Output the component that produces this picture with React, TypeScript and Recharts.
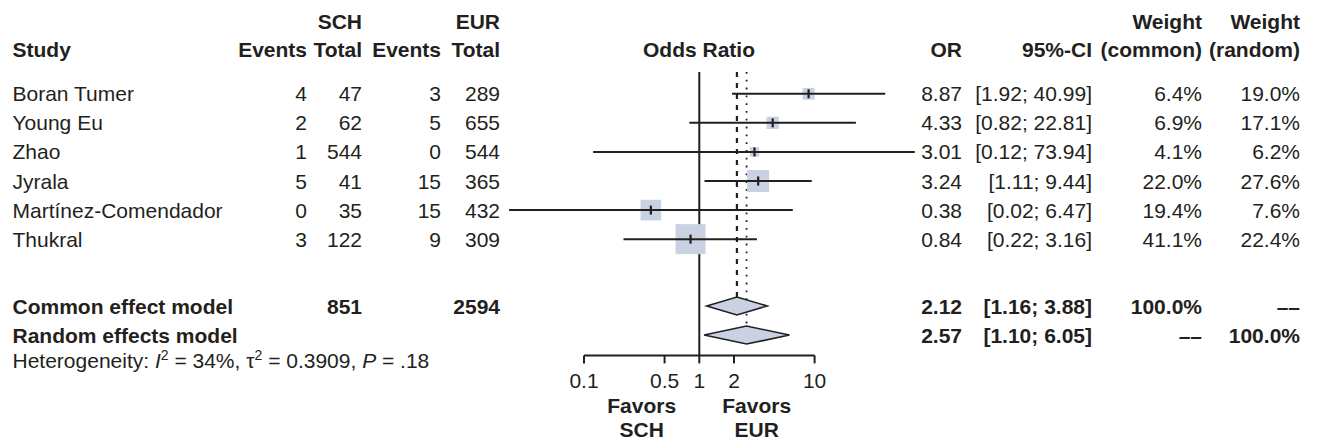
import React from 'react';
import { ScatterChart, Scatter, XAxis, YAxis } from 'recharts';

// ---------- data ----------
const studies = ['Boran Tumer', 'Young Eu', 'Zhao', 'Jyrala', 'Martínez-Comendador', 'Thukral'];
const schEvents = [4, 2, 1, 5, 0, 3];
const schTotal = [47, 62, 544, 41, 35, 122];
const eurEvents = [3, 5, 0, 15, 15, 9];
const eurTotal = [289, 655, 544, 365, 432, 309];
const orValues = [8.87, 4.33, 3.01, 3.24, 0.38, 0.84];
const ciLower = [1.92, 0.82, 0.12, 1.11, 0.0224, 0.22];
const ciUpper = [40.99, 22.81, 73.94, 9.44, 6.47, 3.16];
const weightCommon = [6.4, 6.9, 4.1, 22.0, 19.4, 41.1];
const weightRandom = [19.0, 17.1, 6.2, 27.6, 7.6, 22.4];

const summaryLabels = ['Common effect model', 'Random effects model'];
const summaryOR = [2.12, 2.57];
const summaryLower = [1.16, 1.1];
const summaryUpper = [3.88, 6.05];
const summaryWeightCommon = ['100.0%', '––'];
const summaryWeightRandom = ['––', '100.0%'];
const totalSCH = 851;
const totalEUR = 2594;

const axisTicks = [0.1, 0.5, 1, 2, 10];
const hetI2 = '34%';
const hetTau2 = '0.3909';
const hetP = '.18';

// ---------- style / layout ----------
const FONT = '"Liberation Sans", Arial, Helvetica, sans-serif';
const INK = '#231f20';
const BOX = '#c8d2e3';
const FS = 21;
const COL = { study: 12.5, schEv: 307, schTot: 362, eurEv: 441, eurTot: 500, or: 962, ci: 1092, wc: 1202, wr: 1300 };

const noDot = () => <g />;

function fmtCI(lo: number, hi: number) {
  return `[${lo.toFixed(2)}; ${hi.toFixed(2)}]`;
}

const makeLine = (style: any) => (lp: any) => {
  const pts = (lp.points || []).map((q: any) => `${q.x},${q.y}`).join(' ');
  return <polyline points={pts} fill="none" {...style} />;
};

export default function App() {
  const studyY = studies.map((_, i) => i + 1);
  const sumY = summaryLabels.map((_, i) => studies.length + 2.3 + i);
  const yTop = 0.25;
  const yBottom = 10;

  const squares = studies.map((_, i) => ({ x: orValues[i], y: studyY[i], w: weightCommon[i] }));
  const estimates = studies.map((_, i) => ({ x: orValues[i], y: studyY[i] }));
  const textRows = [
    ...studies.map((_, i) => ({ x: 1, y: studyY[i], kind: 'study', idx: i })),
    ...summaryLabels.map((_, i) => ({ x: 1, y: sumY[i], kind: 'summary', idx: i })),
  ];
  const axisAnchor = axisTicks.map((t) => ({ x: t, y: yBottom }));

  const seg = (key: string, pts: { x: number; y: number }[], style: any) => (
    <Scatter
      key={key}
      xAxisId="d"
      yAxisId="y"
      data={pts}
      line={makeLine(style)}
      lineType="joint"
      shape={noDot}
      isAnimationActive={false}
      legendType="none"
    />
  );

  const txt = (x: number, y: number, s: string | number, anchor: string, bold = false, dy = '0.36em') => (
    <text x={x} y={y} dy={dy} textAnchor={anchor} fill={INK} fontSize={FS} fontFamily={FONT} fontWeight={bold ? 'bold' : 'normal'}>
      {s}
    </text>
  );

  const renderRowText = (p: any) => {
    const d = p.payload || p;
    const cy = p.cy;
    const i = d.idx;
    if (d.kind === 'study') {
      return (
        <g>
          {txt(COL.study, cy, studies[i], 'start')}
          {txt(COL.schEv, cy, schEvents[i], 'end')}
          {txt(COL.schTot, cy, schTotal[i], 'end')}
          {txt(COL.eurEv, cy, eurEvents[i], 'end')}
          {txt(COL.eurTot, cy, eurTotal[i], 'end')}
          {txt(COL.or, cy, orValues[i].toFixed(2), 'end')}
          {txt(COL.ci, cy, fmtCI(ciLower[i], ciUpper[i]), 'end')}
          {txt(COL.wc, cy, `${weightCommon[i].toFixed(1)}%`, 'end')}
          {txt(COL.wr, cy, `${weightRandom[i].toFixed(1)}%`, 'end')}
        </g>
      );
    }
    return (
      <g>
        {txt(COL.study, cy, summaryLabels[i], 'start', true)}
        {i === 0 ? txt(COL.schTot, cy, totalSCH, 'end', true) : null}
        {i === 0 ? txt(COL.eurTot, cy, totalEUR, 'end', true) : null}
        {txt(COL.or, cy, summaryOR[i].toFixed(2), 'end', true)}
        {txt(COL.ci, cy, fmtCI(summaryLower[i], summaryUpper[i]), 'end', true)}
        {txt(COL.wc, cy, summaryWeightCommon[i], 'end', true)}
        {txt(COL.wr, cy, summaryWeightRandom[i], 'end', true)}
      </g>
    );
  };

  const renderSquare = (p: any) => {
    const d = p.payload || p;
    const s = 4.68 * Math.sqrt(d.w);
    return <rect x={p.cx - s / 2} y={p.cy - s / 2} width={s} height={s} fill={BOX} />;
  };

  const renderTick = (p: any) => (
    <line x1={p.cx} x2={p.cx} y1={p.cy - 4.5} y2={p.cy + 4.5} stroke={INK} strokeWidth={2.2} />
  );

  const renderDiamond = (lp: any) => {
    const pts = lp.points || [];
    if (pts.length < 3) return <g />;
    const [a, b, c] = pts;
    const h = 9;
    return (
      <polygon
        points={`${a.x},${a.y} ${b.x},${b.y - h} ${c.x},${c.y} ${b.x},${b.y + h}`}
        fill={BOX}
        stroke={INK}
        strokeWidth={1.6}
        strokeLinejoin="miter"
      />
    );
  };

  const solid = { stroke: INK, strokeWidth: 2 };

  return (
    <div style={{ position: 'absolute', left: 0, top: 0, width: 1318, height: 440, fontFamily: FONT, background: '#fff' }}>
      <ScatterChart width={1318} height={440} margin={{ top: 72, right: 388.1, bottom: 54.6, left: 468.7 }}>
        <XAxis
          xAxisId="v"
          type="number"
          scale="log"
          domain={[0.1, 10]}
          allowDataOverflow
          dataKey="x"
          ticks={axisTicks}
          interval={0}
          padding={{ left: 115.3, right: 115.3 }}
          axisLine={false}
          tickLine={{ stroke: INK, strokeWidth: 2 }}
          tickSize={8}
          tickMargin={9.5}
          height={30}
          tick={{ fill: INK, fontSize: FS, fontFamily: FONT }}
          tickFormatter={(v: number) => String(v)}
        />
        <XAxis xAxisId="d" orientation="top" hide type="number" scale="log" domain={[0.01, 100]} dataKey="x" />
        <YAxis yAxisId="y" hide type="number" domain={[yTop, yBottom]} reversed dataKey="y" />

        {/* anchors the visible axis to the tick values */}
        <Scatter xAxisId="v" yAxisId="y" data={axisAnchor} shape={noDot} isAnimationActive={false} legendType="none" />

        {/* axis line and reference lines */}
        {seg('axis', [{ x: axisTicks[0], y: yBottom }, { x: axisTicks[axisTicks.length - 1], y: yBottom }], solid)}
        {seg('null', [{ x: 1, y: yTop }, { x: 1, y: yBottom }], solid)}
        {seg('common', [{ x: summaryOR[0], y: yTop }, { x: summaryOR[0], y: sumY[0] }], { stroke: INK, strokeWidth: 2.2, strokeDasharray: '5 6' })}
        {seg('random', [{ x: summaryOR[1], y: yTop }, { x: summaryOR[1], y: sumY[1] }], { stroke: INK, strokeWidth: 1.8, strokeDasharray: '1.8 6' })}

        {/* study boxes */}
        <Scatter xAxisId="d" yAxisId="y" data={squares} shape={renderSquare} isAnimationActive={false} legendType="none" />

        {/* confidence intervals */}
        {studies.map((_, i) =>
          seg(`ci${i}`, [{ x: ciLower[i], y: studyY[i] }, { x: ciUpper[i], y: studyY[i] }], solid)
        )}

        {/* point estimate ticks */}
        <Scatter xAxisId="d" yAxisId="y" data={estimates} shape={renderTick} isAnimationActive={false} legendType="none" />

        {/* summary diamonds */}
        {summaryLabels.map((_, i) => (
          <Scatter
            key={`dia${i}`}
            xAxisId="d"
            yAxisId="y"
            data={[
              { x: summaryLower[i], y: sumY[i] },
              { x: summaryOR[i], y: sumY[i] },
              { x: summaryUpper[i], y: sumY[i] },
            ]}
            line={renderDiamond}
            lineType="joint"
            shape={noDot}
            isAnimationActive={false}
            legendType="none"
          />
        ))}

        {/* row texts */}
        <Scatter xAxisId="d" yAxisId="y" data={textRows} shape={renderRowText} isAnimationActive={false} legendType="none" />
      </ScatterChart>

      <svg width={1318} height={440} style={{ position: 'absolute', left: 0, top: 0, pointerEvents: 'none' }}>
        <g fill={INK} fontSize={FS} fontFamily={FONT}>
          <g fontWeight="bold">
            <text x={COL.schTot} y={29} textAnchor="end">SCH</text>
            <text x={COL.eurTot} y={29} textAnchor="end">EUR</text>
            <text x={COL.wc} y={29} textAnchor="end">Weight</text>
            <text x={COL.wr} y={29} textAnchor="end">Weight</text>

            <text x={COL.study} y={57.3}>Study</text>
            <text x={COL.schEv} y={57.3} textAnchor="end">Events</text>
            <text x={COL.schTot} y={57.3} textAnchor="end">Total</text>
            <text x={COL.eurEv} y={57.3} textAnchor="end">Events</text>
            <text x={COL.eurTot} y={57.3} textAnchor="end">Total</text>
            <text x={699} y={57.3} textAnchor="middle">Odds Ratio</text>
            <text x={COL.or} y={57.3} textAnchor="end">OR</text>
            <text x={COL.ci} y={57.3} textAnchor="end">95%-CI</text>
            <text x={COL.wc} y={57.3} textAnchor="end">(common)</text>
            <text x={COL.wr} y={57.3} textAnchor="end">(random)</text>

            <text x={641.7} y={412.5} textAnchor="middle">Favors</text>
            <text x={641.7} y={437.3} textAnchor="middle">SCH</text>
            <text x={756.7} y={412.5} textAnchor="middle">Favors</text>
            <text x={756.7} y={437.3} textAnchor="middle">EUR</text>
          </g>
          <text x={COL.study} y={368.3}>
            Heterogeneity: <tspan fontStyle="italic">I</tspan>
            <tspan dy={-8} fontSize={14}>2</tspan>
            <tspan dy={8}>{` = ${hetI2}, τ`}</tspan>
            <tspan dy={-8} fontSize={14}>2</tspan>
            <tspan dy={8}>{` = ${hetTau2}, `}</tspan>
            <tspan fontStyle="italic">P</tspan>
            <tspan>{` = ${hetP}`}</tspan>
          </text>
        </g>
      </svg>
    </div>
  );
}
